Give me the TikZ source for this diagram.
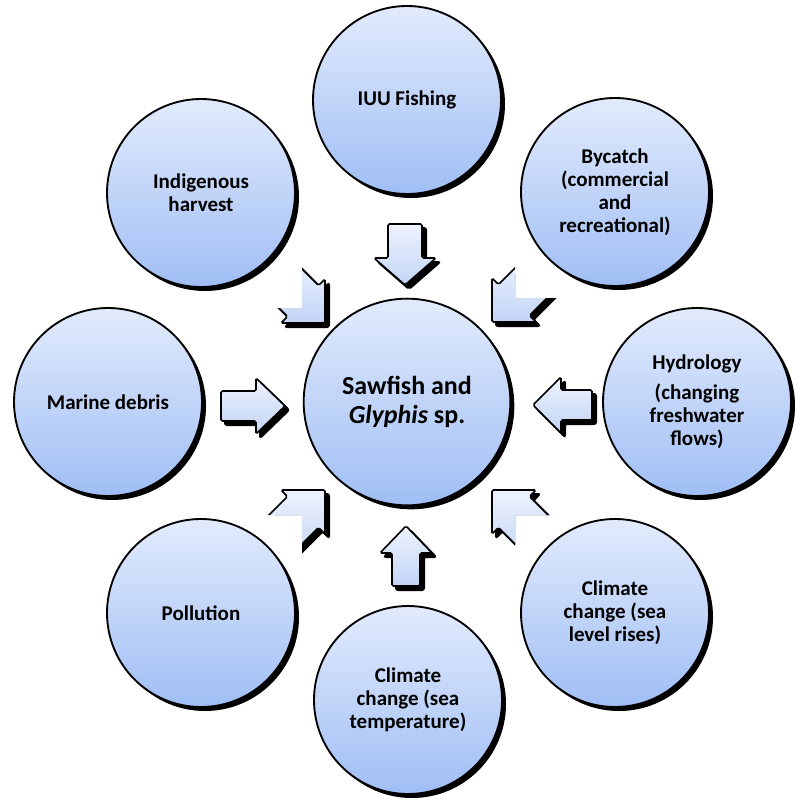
\documentclass[tikz,border=0pt]{standalone}
\usepackage{fontspec}
\setmainfont{Carlito}
\usetikzlibrary{shadows}
\definecolor{cTop}{RGB}{226,235,252}
\definecolor{cBot}{RGB}{160,190,245}
\definecolor{aTop}{RGB}{238,243,253}
\definecolor{aBot}{RGB}{194,212,246}
\begin{document}
\begin{tikzpicture}[x=0.75pt,y=-0.75pt,
  bubble/.style={circle, draw=black, line width=1.4pt, top color=cTop, bottom color=cBot,
    minimum size=141pt, inner sep=0pt, align=center,
    font=\bfseries\fontsize{15.75}{17.25}\selectfont,
    drop shadow={shadow xshift=3pt, shadow yshift=-3pt, fill=black, opacity=1}},
  hub/.style={bubble, minimum size=155pt, font=\bfseries\fontsize{19.5}{21.75}\selectfont},
  arrowbody/.style={draw=black, line width=1.2pt, rounded corners=1.2pt, top color=aTop, bottom color=aBot},
  arrowshadow/.style={fill=black, draw=black, line width=1.5pt, rounded corners=1.5pt}]
\useasboundingbox (0,0) rectangle (794,802);

% circles
\node[hub] (hub) at (407,402) {Sawfish and\\\textit{Glyphis} sp.};
\node[bubble] (iuu) at (407,100) {IUU Fishing};
\node[bubble] (ind) at (201,193) {Indigenous\\harvest};
\node[bubble] (byc) at (615,192) {Bycatch\\(commercial\\and\\recreational)};
\node[bubble] (mar) at (108,402) {Marine debris};
\node[bubble] (hyd) at (697,402) {Hydrology\\[5pt](changing\\freshwater\\flows)};
\node[bubble] (pol) at (201,613) {Pollution};
\node[bubble] (sea) at (615,613) {Climate\\change (sea\\level rises)};
\node[bubble] (tmp) at (408,700) {Climate\\change (sea\\temperature)};

% straight block arrows
\begin{scope}[shift={(4,4)}]
\fill[arrowshadow] (405,285) -- (436,258) -- (422,258) -- (422,224) -- (388,224) -- (388,258) -- (374,258) -- cycle;
\fill[arrowshadow] (406,526) -- (432,553) -- (420,553) -- (420,586) -- (392,586) -- (392,553) -- (380,553) -- cycle;
\fill[arrowshadow] (285,406) -- (256,378) -- (256,391) -- (221,391) -- (221,421) -- (256,421) -- (256,434) -- cycle;
\fill[arrowshadow] (533,405) -- (561,377) -- (561,390) -- (592,390) -- (592,420) -- (561,420) -- (561,433) -- cycle;
\end{scope}
\path[arrowbody] (405,285) -- (436,258) -- (422,258) -- (422,224) -- (388,224) -- (388,258) -- (374,258) -- cycle;
\path[arrowbody] (406,526) -- (432,553) -- (420,553) -- (420,586) -- (392,586) -- (392,553) -- (380,553) -- cycle;
\path[arrowbody] (285,406) -- (256,378) -- (256,391) -- (221,391) -- (221,421) -- (256,421) -- (256,434) -- cycle;
\path[arrowbody] (533,405) -- (561,377) -- (561,390) -- (592,390) -- (592,420) -- (561,420) -- (561,433) -- cycle;

% diagonal block arrows (partly hidden)
\begin{scope}
\clip (302,250) -- (345,250) -- (345,340) -- (265,340) -- (265,308) -- (302,308) -- cycle;
\fill[arrowshadow, shift={(329,327)}] (0,0) -- (0,-44) -- (-6.4,-37.5) -- (-37.5,-68.6) -- (-68.6,-37.5) -- (-37.5,-6.4) -- (-44,0) -- cycle;
\path[arrowbody, shift={(325,323)}] (0,0) -- (0,-44) -- (-6.4,-37.5) -- (-37.5,-68.6) -- (-68.6,-37.5) -- (-37.5,-6.4) -- (-44,0) -- cycle;
\end{scope}
\begin{scope}
\clip (470,250) -- (515,250) -- (515,298) -- (565,298) -- (565,340) -- (470,340) -- cycle;
\fill[arrowshadow, shift={(496,326)}] (0,0) -- (0,-44) -- (6.4,-37.5) -- (37.5,-68.6) -- (68.6,-37.5) -- (37.5,-6.4) -- (44,0) -- cycle;
\path[arrowbody, shift={(492,322)}] (0,0) -- (0,-44) -- (6.4,-37.5) -- (37.5,-68.6) -- (68.6,-37.5) -- (37.5,-6.4) -- (44,0) -- cycle;
\end{scope}
\begin{scope}
\clip (265,470) -- (345,470) -- (345,565) -- (302,565) -- (302,515) -- (265,515) -- cycle;
\fill[arrowshadow, shift={(329,494)}] (0,0) -- (0,44) -- (-6.4,37.5) -- (-37.5,68.6) -- (-68.6,37.5) -- (-37.5,6.4) -- (-44,0) -- cycle;
\path[arrowbody, shift={(325,490)}] (0,0) -- (0,44) -- (-6.4,37.5) -- (-37.5,68.6) -- (-68.6,37.5) -- (-37.5,6.4) -- (-44,0) -- cycle;
\end{scope}
\begin{scope}
\clip (470,470) -- (565,470) -- (565,515) -- (515,515) -- (515,565) -- (470,565) -- cycle;
\fill[arrowshadow, shift={(496,494)}] (0,0) -- (0,44) -- (6.4,37.5) -- (37.5,68.6) -- (68.6,37.5) -- (37.5,6.4) -- (44,0) -- cycle;
\path[arrowbody, shift={(492,490)}] (0,0) -- (0,44) -- (6.4,37.5) -- (37.5,68.6) -- (68.6,37.5) -- (37.5,6.4) -- (44,0) -- cycle;
\end{scope}
\end{tikzpicture}
\end{document}
